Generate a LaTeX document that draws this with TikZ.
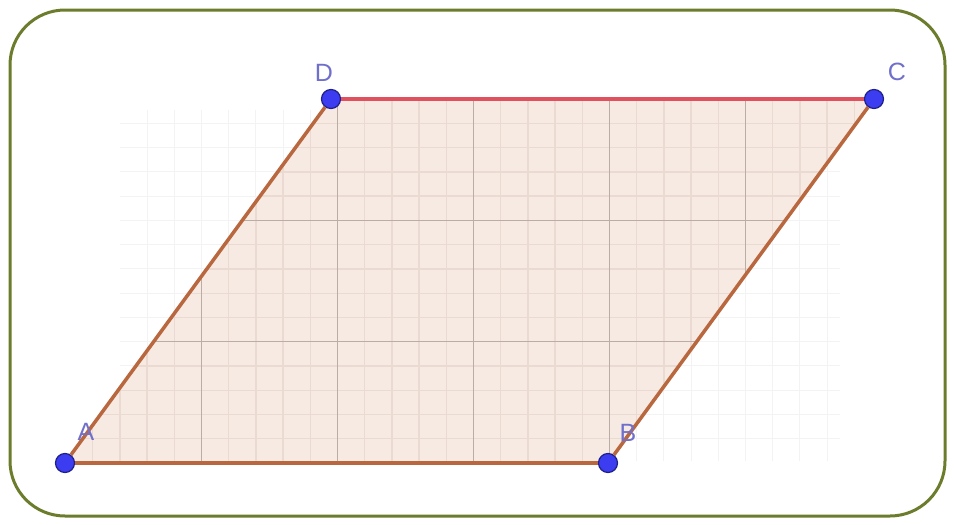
\documentclass[tikz,border=0pt]{standalone}
\usepackage{fontspec}
\setmainfont{Liberation Sans}
\definecolor{frameolive}{HTML}{6B7D2C}
\definecolor{paral}{HTML}{F6EAE3}
\definecolor{gmajor}{HTML}{BBADA6}
\definecolor{gminor}{HTML}{EBDAD2}
\definecolor{gfaint}{HTML}{F3F3F3}
\definecolor{edgebrown}{HTML}{B8673E}
\definecolor{edgered}{HTML}{E0505E}
\definecolor{ptfill}{HTML}{3C3CF0}
\definecolor{ptdraw}{HTML}{20208A}
\definecolor{lblue}{HTML}{7070CC}
\begin{document}
\begin{tikzpicture}[x=1pt,y=-1pt,
  vertex/.style={circle,fill=ptfill,draw=ptdraw,line width=1.2pt,inner sep=0pt,minimum size=19pt},
  side/.style={edgebrown,line width=3.5pt},
  topside/.style={edgered,line width=3.5pt},
  lbl/.style={text=lblue,font=\fontsize{25}{25}\selectfont,inner sep=0pt},
  minorline/.style={gminor,line width=1.3pt},
  majorline/.style={gmajor,line width=1.5pt},
  faintline/.style={gfaint,line width=1pt}]
\useasboundingbox (0,0) rectangle (954,525);
\fill[white] (0,0) rectangle (954,525);
% faint background grid
\begin{scope}
\clip (120,110) rectangle (840,460);
\foreach \i in {0,...,40} \draw[faintline] ({65.5+27.2*\i},80) -- ++(0,400);
\foreach \j in {0,...,20} \draw[faintline] (60,{463-24.26*\j}) -- ++(850,0);
\end{scope}
% parallelogram fill
\coordinate (pA) at (65,463);
\coordinate (pB) at (608,463);
\coordinate (pC) at (874,99);
\coordinate (pD) at (331,99);
\fill[paral] (pA)--(pB)--(pC)--(pD)--cycle;
\begin{scope}
\clip (pA)--(pB)--(pC)--(pD)--cycle;
\foreach \i in {0,...,32} \draw[minorline] ({65.5+27.2*\i},80) -- ++(0,400);
\foreach \j in {0,...,16} \draw[minorline] (50,{463-24.26*\j}) -- ++(860,0);
\foreach \i in {0,...,6} \draw[majorline] ({65.5+136*\i},80) -- ++(0,400);
\foreach \j in {0,...,3} \draw[majorline] (50,{463-121.3*\j}) -- ++(860,0);
\end{scope}
% vertices
\node[vertex] (A) at (pA) {};
\node[vertex] (B) at (pB) {};
\node[vertex] (C) at (pC) {};
\node[vertex] (D) at (pD) {};
% sides
\draw[side] (A) -- (B);
\draw[side] (B) -- (C);
\draw[side] (A) -- (D);
\draw[topside] (D) -- (C);
% labels
\node[lbl] (lA) at (86,432) {A};
\node[lbl] (lB) at (628,433) {B};
\node[lbl] (lC) at (897,72) {C};
\node[lbl] (lD) at (324,73) {D};
% frame
\draw[frameolive,line width=3pt,rounded corners=55pt] (10,10) rectangle (945,516);
\end{tikzpicture}
\end{document}
